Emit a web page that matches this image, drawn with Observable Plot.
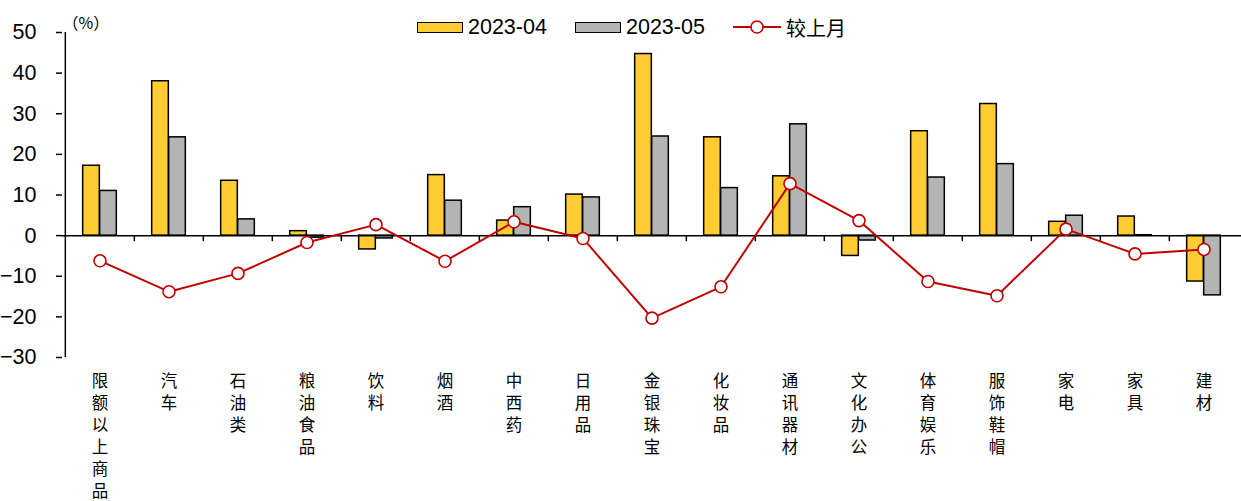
<!DOCTYPE html>
<html>
<head>
<meta charset="utf-8">
<script src="https://cdn.jsdelivr.net/npm/d3@7"></script>
<script src="https://cdn.jsdelivr.net/npm/@observablehq/plot@0.6"></script>
<style>
  html, body { margin: 0; padding: 0; background: #fff; }
  #wrap { position: relative; width: 1241px; height: 501px; }
  #chart svg { display: block; }
  .lg { position: absolute; top: 16px; height: 22px; display: flex; align-items: center;
        font-family: "Liberation Sans", Arial, sans-serif; font-size: 21.5px; color: #000; }
  .sw { width: 46px; height: 11px; box-sizing: border-box; border: 1.5px solid #000; margin-right: 5px; }
  .cjk { font-family: "Noto Sans CJK SC", sans-serif; font-size: 20px; }
</style>
</head>
<body>
<div id="wrap">
  <div id="chart"></div>
  <div id="legend"></div>
</div>
<script>
// 各类商品零售额同比增速（%）
const categories = ["限额以上商品", "汽车", "石油类", "粮油食品", "饮料", "烟酒", "中西药", "日用品",
  "金银珠宝", "化妆品", "通讯器材", "文化办公", "体育娱乐", "服饰鞋帽", "家电", "家具", "建材"];
const apr2023 = [17.2, 38.0, 13.5, 1.1, -3.4, 14.9, 3.7, 10.1, 44.7, 24.2, 14.6, -5.0, 25.7, 32.4, 3.4, 4.7, -11.3];
const may2023 = [11.0, 24.2, 4.0, -0.5, -0.7, 8.6, 7.0, 9.4, 24.4, 11.7, 27.4, -1.2, 14.3, 17.6, 4.9, 0.1, -14.7];
const vsLastMonth = [-6.2, -13.8, -9.3, -1.7, 2.7, -6.3, 3.4, -0.7, -20.3, -12.6, 12.8, 3.7, -11.3, -14.8, 1.6, -4.5, -3.4];
const yTicks = [-30, -20, -10, 0, 10, 20, 30, 40, 50];
const seriesNames = ["2023-04", "2023-05", "较上月"];

const rows = categories.map((c, i) => ({cat: c, apr: apr2023[i], may: may2023[i], mom: vsLastMonth[i]}));

const W = 1241, H = 501;
const marginLeft = 62, marginRight = 0, marginTop = 32, marginBottom = 144;
const bw = (W - marginLeft - marginRight) / categories.length;
const barW = 17;
const YELLOW = "#FFCC33", GRAY = "#B4B4B4", RED = "#C00000";
const LATIN = "'Liberation Sans', Arial, sans-serif";
const CJK = "'Noto Sans CJK SC', sans-serif";

const chart = Plot.plot({
  width: W,
  height: H,
  marginLeft, marginRight, marginTop, marginBottom,
  style: {background: "#fff", color: "#000", fontFamily: LATIN},
  x: {type: "band", domain: categories, padding: 0, axis: null},
  y: {domain: [-30, 50]},
  marks: [
    Plot.barY(rows, {x: "cat", y: "apr", fill: YELLOW, stroke: "#000", strokeWidth: 1.5,
      insetLeft: bw / 2 - barW, insetRight: bw / 2}),
    Plot.barY(rows, {x: "cat", y: "may", fill: GRAY, stroke: "#000", strokeWidth: 1.5,
      insetLeft: bw / 2, insetRight: bw / 2 - barW}),
    Plot.ruleY([0], {stroke: "#000", strokeWidth: 1.5}),
    // category boundary ticks hanging below the zero line
    Plot.ruleX(categories.slice(1), {x: d => d, y1: 0, y2: 0, dx: -bw / 2, insetBottom: -6,
      stroke: "#000", strokeWidth: 1.5}),
    // value axis line
    Plot.ruleX([categories[0]], {x: d => d, y1: -30, y2: 50, dx: -bw / 2, stroke: "#000", strokeWidth: 1.5}),
    Plot.axisY({ticks: yTicks, tickSize: 6, tickPadding: 20, fontSize: 21.5, label: null,
      stroke: "#000", strokeWidth: 1.5, strokeOpacity: 1, fill: "#000"}),
    Plot.lineY(rows, {x: "cat", y: "mom", stroke: RED, strokeWidth: 2}),
    Plot.dot(rows, {x: "cat", y: "mom", r: 6, fill: "#fff", stroke: RED, strokeWidth: 1.6}),
    Plot.text(rows, {x: "cat", text: d => d.cat.split("").join("\n"), frameAnchor: "bottom",
      lineAnchor: "top", dy: 14, lineHeight: 1.33, fontSize: 16.5, fontFamily: CJK, fill: "#000"}),
    Plot.text(["（%）"], {frameAnchor: "top-left", textAnchor: "start", dx: 0, dy: -15,
      fontSize: 16, fontFamily: CJK, fill: "#000"})
  ]
});
document.getElementById("chart").appendChild(chart);

// legend
const legend = document.getElementById("legend");
const items = [
  {left: 417, html: `<div class="sw" style="background:${YELLOW}"></div><span>${seriesNames[0]}</span>`},
  {left: 575, html: `<div class="sw" style="background:${GRAY}"></div><span>${seriesNames[1]}</span>`},
  {left: 733, html: `<svg width="48" height="22" style="margin-right:5px"><line x1="0" x2="48" y1="11" y2="11" stroke="${RED}" stroke-width="2"/><circle cx="24" cy="11" r="6" fill="#fff" stroke="${RED}" stroke-width="1.6"/></svg><span class="cjk">${seriesNames[2]}</span>`}
];
for (const it of items) {
  const d = document.createElement("div");
  d.className = "lg";
  d.style.left = it.left + "px";
  d.innerHTML = it.html;
  legend.appendChild(d);
}
</script>
</body>
</html>
